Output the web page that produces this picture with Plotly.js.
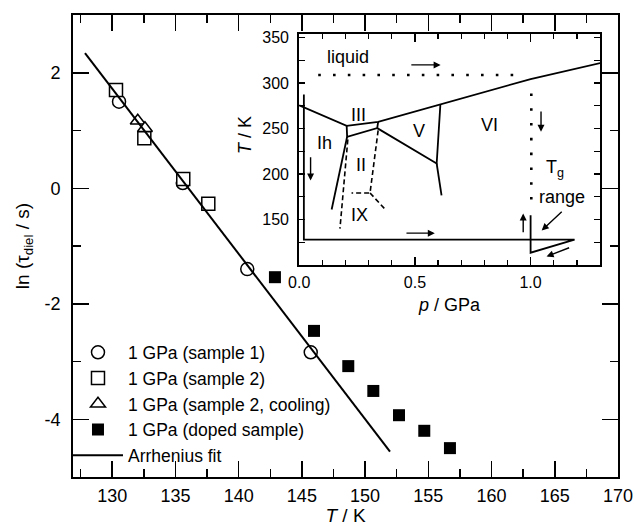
<!DOCTYPE html>
<html>
<head>
<meta charset="utf-8">
<script src="https://cdn.plot.ly/plotly-3.0.1.min.js"></script>
<style>
  html, body { margin: 0; padding: 0; background: #fff; }
  #chart { width: 635px; height: 526px; }
</style>
</head>
<body>
<div id="chart"></div>
<script>
// ---- Dielectric relaxation times at 1 GPa: ln(tau_diel / s) versus T / K ----
const tSample1 = [130.54, 135.58, 140.68, 145.70];
const lnSample1 = [1.50, 0.09, -1.40, -2.84];

const tSample2 = [130.30, 132.54, 135.62, 137.60];
const lnSample2 = [1.70, 0.865, 0.16, -0.27];

const tCooling = [132.02, 132.59];
const lnCooling = [1.17, 1.04];

const tDoped = [142.87, 145.96, 148.67, 150.65, 152.68, 154.68, 156.71];
const lnDoped = [-1.54, -2.47, -3.08, -3.51, -3.93, -4.20, -4.50];

const tFit = [127.85, 151.97];
const lnFit = [2.34, -4.56];

const seriesNames = [
  '1 GPa (sample 1)',
  '1 GPa (sample 2)',
  '1 GPa (sample 2, cooling)',
  '1 GPa (doped sample)',
  'Arrhenius fit'
];

const yTickVals = [-4, -2, 0, 2];
const yTickText = ['-4', '-2', '0', '2'];
const yMinorVals = [-3, -1, 1];

// ---- Inset: phase diagram of water, p / GPa versus T / K ----
const insetTickVals = [150, 200, 250, 300, 350];
const insetMinorVals = [125, 175, 225, 275, 325];

// melting curve of the ices
const meltP = [0.0, 0.205, 0.341, 0.608, 1.0, 1.33];
const meltT = [275.5, 253.0, 257.4, 276.6, 304.4, 323.8];

// solid phase boundaries between ice phases (segments separated by null)
const boundP = [0.205, 0.207, 0.337, 0.341, null, 0.337, 0.594, 0.610, null, 0.594, 0.615, null, 0.207, 0.140];
const boundT = [253.0, 241.0, 250.5, 257.4, null, 250.5, 211.6, 276.5, null, 211.6, 176.6, null, 241.0, 161.0];

// metastable / uncertain boundaries (dashed)
const dashP = [0.210, 0.176, null, 0.341, 0.306, 0.226, null, 0.306, 0.372];
const dashT = [238.0, 140.0, null, 248.0, 179.2, 179.2, null, 179.2, 161.0];

// isobar and isotherm of the liquid (dotted)
const dotP = [0.082, 0.976, null, 1.003, 1.003];
const dotT = [308.9, 308.9, null, 288.7, 160.0];

// sample preparation route
const routeP = [0.02, 0.02, 1.19, 1.0, 1.0];
const routeT = [287.6, 127.8, 127.8, 113.5, 154.6];

// arrows along the route: tail (p, T) -> head (p, T)
const arrowTailP = [0.478, 0.049, 0.457, 1.045, 0.968, 1.141, 1.173];
const arrowTailT = [320.0, 220.0, 135.0, 270.3, 134.4, 160.0, 119.6];
const arrowHeadP = [0.611, 0.049, 0.586, 1.045, 0.968, 1.048, 1.069];
const arrowHeadT = [320.0, 193.0, 135.0, 246.4, 156.5, 138.0, 109.4];

// phase labels
const phaseText = ['liquid', 'III', 'Ih', 'II', 'V', 'VI', 'IX', 'T<sub>g</sub>', 'range'];
const phaseP = [0.212, 0.255, 0.111, 0.265, 0.519, 0.824, 0.262, 1.105, 1.134];
const phaseT = [329.0, 264.8, 233.6, 209.7, 247.5, 253.8, 154.6, 206.0, 174.8];

const FONT = 'Arial, "Liberation Sans", Helvetica, sans-serif';
const BLACK = '#000';

const openMarker = (symbol) => ({
  symbol: symbol, size: 13, color: '#fff',
  line: { color: BLACK, width: 1.5 }
});

const traces = [
  { x: tSample1, y: lnSample1, name: seriesNames[0], legendrank: 1,
    mode: 'markers', marker: openMarker('circle'), xaxis: 'x', yaxis: 'y' },
  { x: tCooling, y: lnCooling, name: seriesNames[2], legendrank: 3,
    mode: 'markers', marker: openMarker('triangle-up'), xaxis: 'x', yaxis: 'y' },
  { x: tSample2, y: lnSample2, name: seriesNames[1], legendrank: 2,
    mode: 'markers', marker: openMarker('square'), xaxis: 'x', yaxis: 'y' },
  { x: tDoped, y: lnDoped, name: seriesNames[3], legendrank: 4,
    mode: 'markers', marker: { symbol: 'square', size: 12, color: BLACK, line: { width: 0 } }, xaxis: 'x', yaxis: 'y' },
  { x: tFit, y: lnFit, name: seriesNames[4], legendrank: 5,
    mode: 'lines', line: { color: BLACK, width: 2 }, xaxis: 'x', yaxis: 'y' },

  // inset lines
  { x: meltP, y: meltT, mode: 'lines', line: { color: BLACK, width: 1.8 },
    xaxis: 'x2', yaxis: 'y2', showlegend: false, hoverinfo: 'skip', cliponaxis: false },
  { x: boundP, y: boundT, mode: 'lines', line: { color: BLACK, width: 1.8 },
    xaxis: 'x2', yaxis: 'y2', showlegend: false, hoverinfo: 'skip', connectgaps: false },
  { x: dashP, y: dashT, mode: 'lines', line: { color: BLACK, width: 1.6, dash: '5px,3px' },
    xaxis: 'x2', yaxis: 'y2', showlegend: false, hoverinfo: 'skip', connectgaps: false },
  { x: dotP, y: dotT, mode: 'lines', line: { color: BLACK, width: 2.6, dash: '2.6px,12.2px' },
    xaxis: 'x2', yaxis: 'y2', showlegend: false, hoverinfo: 'skip', connectgaps: false },
  { x: routeP, y: routeT, mode: 'lines', line: { color: BLACK, width: 1.8 },
    xaxis: 'x2', yaxis: 'y2', showlegend: false, hoverinfo: 'skip' }
];

const annotations = [];
for (let i = 0; i < arrowHeadP.length; i++) {
  annotations.push({
    xref: 'x2', yref: 'y2', axref: 'x2', ayref: 'y2',
    x: arrowHeadP[i], y: arrowHeadT[i], ax: arrowTailP[i], ay: arrowTailT[i],
    text: '', showarrow: true, arrowhead: 2, arrowsize: 1, arrowwidth: 1.4,
    arrowcolor: BLACK, standoff: 0, startstandoff: 0
  });
}
for (let i = 0; i < phaseText.length; i++) {
  annotations.push({
    xref: 'x2', yref: 'y2', x: phaseP[i], y: phaseT[i],
    text: phaseText[i], showarrow: false,
    font: { family: FONT, size: 18, color: BLACK }
  });
}
// vertical axis title of the inset, set a little above the middle of its frame
annotations.push({
  xref: 'paper', yref: 'paper', x: 0.3156, y: 0.7403,
  xanchor: 'center', yanchor: 'middle',
  text: '<i>T</i> / K', textangle: -90, showarrow: false,
  font: { family: FONT, size: 18, color: BLACK }
});

const axisBase = {
  showline: true, linecolor: BLACK, linewidth: 1.8, mirror: 'ticks',
  ticks: 'inside', tickcolor: BLACK, tickwidth: 1.5,
  showgrid: false, zeroline: false, fixedrange: true
};

const layout = {
  width: 635, height: 526,
  margin: { l: 73, r: 17, t: 15, b: 49 },
  paper_bgcolor: '#fff', plot_bgcolor: '#fff',
  font: { family: FONT, size: 18, color: BLACK },
  showlegend: true,
  legend: {
    x: -0.0092, y: 0.3087, xanchor: 'left', yanchor: 'top',
    bgcolor: 'rgba(0,0,0,0)', borderwidth: 0,
    itemwidth: 50, font: { family: FONT, size: 17.5, color: BLACK },
    tracegroupgap: 0
  },
  xaxis: Object.assign({}, axisBase, {
    domain: [0, 1], anchor: 'y',
    range: [126.9, 170], dtick: 5, tick0: 0, ticklen: 16,
    ticklabelstandoff: 2,
    tickfont: { family: FONT, size: 18 },
    minor: { dtick: 2.5, ticks: 'inside', ticklen: 8, tickwidth: 1.5, tickcolor: BLACK },
    title: { text: '<i>T</i> / K', font: { family: FONT, size: 19 }, standoff: 14 }
  }),
  yaxis: Object.assign({}, axisBase, {
    domain: [0, 1], anchor: 'x',
    range: [-5, 3], tickmode: 'array', tickvals: yTickVals, ticktext: yTickText,
    ticklen: 16, ticklabelstandoff: 7,
    tickfont: { family: FONT, size: 18 },
    minor: { tickmode: 'array', tickvals: yMinorVals, ticks: 'inside', ticklen: 8, tickwidth: 1.5, tickcolor: BLACK },
    title: { text: 'ln (τ<sub>diel</sub> / s)', font: { family: FONT, size: 19 }, standoff: 10 }
  }),
  xaxis2: Object.assign({}, axisBase, {
    domain: [0.4147, 0.967], anchor: 'y2',
    range: [-0.001, 1.3], dtick: 0.5, tick0: 0, tickformat: '.1f', ticklen: 8,
    ticklabelstandoff: 2,
    tickfont: { family: FONT, size: 16 },
    minor: { dtick: 0.1, ticks: 'inside', ticklen: 5, tickwidth: 1.3, tickcolor: BLACK },
    title: { text: '<i>p</i> / GPa', font: { family: FONT, size: 18 }, standoff: 8 }
  }),
  yaxis2: Object.assign({}, axisBase, {
    domain: [0.4589, 0.9589], anchor: 'x2',
    range: [100, 354], tickmode: 'array', tickvals: insetTickVals, ticklen: 6,
    ticklabelstandoff: 5,
    tickfont: { family: FONT, size: 16 },
    minor: { tickmode: 'array', tickvals: insetMinorVals, ticks: 'inside', ticklen: 6, tickwidth: 1.3, tickcolor: BLACK }
  }),
  annotations: annotations
};

Plotly.newPlot('chart', traces, layout, { staticPlot: true, displayModeBar: false });
</script>
</body>
</html>
